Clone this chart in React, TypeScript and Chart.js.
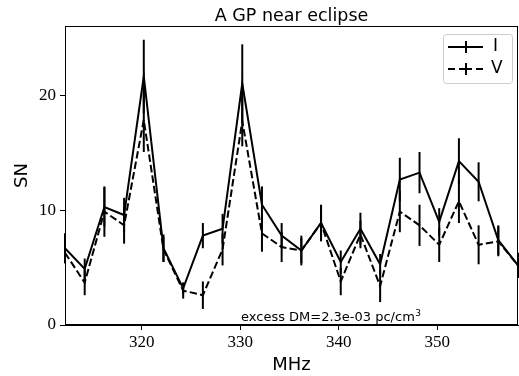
import React, { useEffect, useRef } from 'react';
import { Chart, registerables } from 'chart.js';

Chart.register(...registerables);

// Frequency channels (MHz)
const freqs = [
  312.2, 314.2, 316.2, 318.2, 320.2, 322.2, 324.2, 326.2, 328.2, 330.2, 332.2, 334.2,
  336.2, 338.2, 340.2, 342.2, 344.2, 346.2, 348.2, 350.2, 352.2, 354.2, 356.2, 358.2,
];
// Total intensity SN
const snI = [6.7, 4.9, 10.3, 9.6, 21.7, 6.7, 3.2, 7.8, 8.4, 21.1, 10.5, 7.8, 6.5, 8.9, 5.5, 8.4, 5.3, 12.7, 13.3, 9.0, 14.3, 12.5, 7.4, 5.2];
// Circular polarisation SN
const snV = [6.3, 3.7, 9.9, 8.7, 17.9, 6.6, 3.0, 2.6, 6.6, 17.8, 8.0, 6.8, 6.5, 8.9, 3.8, 7.9, 3.4, 9.9, 8.7, 7.0, 10.8, 7.0, 7.3, 5.2];
// Error bars
const errI = [1.3, 0.9, 1.7, 1.5, 3.2, 1.2, 0.5, 1.1, 1.3, 3.4, 1.6, 1.1, 1.1, 1.6, 1.0, 1.4, 0.9, 1.9, 1.8, 1.2, 2.0, 1.7, 1.3, 1.1];
const errV = [0.9, 1.1, 2.2, 1.6, 2.8, 1.1, 0.7, 1.2, 1.4, 2.2, 1.6, 1.3, 1.3, 1.5, 1.2, 1.2, 1.4, 1.8, 1.8, 1.5, 1.9, 1.7, 1.3, 1.0];

const xTicks = [320, 330, 340, 350];
const yTicks = [0, 10, 20];
const xMin = 312.2;
const xMax = 358.2;
const yMin = 0;
const yMax = 26.1;

const titleText = 'A GP near eclipse';
const xLabel = 'MHz';
const yLabel = 'SN';
const noteText = 'excess DM=2.3e-03 pc/cm';
const noteSup = '3';
const seriesLabels = ['I', 'V'];

const SANS = '"DejaVu Sans"';
const SERIF = '"Liberation Serif"';

const decor = {
  id: 'decor',
  afterDatasetsDraw(chart: any) {
    const { ctx, chartArea, scales } = chart;
    const xs = scales.x;
    const ys = scales.y;
    ctx.save();
    // error bars
    const errs = [errI, errV];
    const vals = [snI, snV];
    ctx.strokeStyle = '#000';
    ctx.lineWidth = 2;
    ctx.setLineDash([]);
    for (let d = 0; d < 2; d++) {
      for (let i = 0; i < freqs.length; i++) {
        const px = xs.getPixelForValue(freqs[i]);
        const y1 = ys.getPixelForValue(vals[d][i] + errs[d][i]);
        const y2 = ys.getPixelForValue(vals[d][i] - errs[d][i]);
        ctx.beginPath();
        ctx.moveTo(px, y1);
        ctx.lineTo(px, y2);
        ctx.stroke();
      }
    }
    // spines
    ctx.lineWidth = 1;
    ctx.strokeStyle = '#000';
    const l = Math.round(chartArea.left) + 0.5;
    const r = Math.round(chartArea.right) - 0.5;
    const t = Math.round(chartArea.top) + 0.5;
    const b = Math.round(chartArea.bottom) - 0.5;
    ctx.strokeRect(l, t, r - l, b - t);

    // note text
    ctx.fillStyle = '#000';
    ctx.font = `13px ${SANS}`;
    ctx.textAlign = 'left';
    ctx.textBaseline = 'alphabetic';
    const nx = 241;
    const ny = 321;
    ctx.fillText(noteText, nx, ny);
    const w = ctx.measureText(noteText).width;
    ctx.font = `9px ${SANS}`;
    ctx.fillText(noteSup, nx + w + 0.5, ny - 5);

    // legend
    const lx = 443, ly = 34, lw = 69, lh = 49;
    ctx.beginPath();
    ctx.roundRect(lx + 0.5, ly + 0.5, lw, lh, 3);
    ctx.fillStyle = 'rgba(255,255,255,0.8)';
    ctx.fill();
    ctx.strokeStyle = '#cccccc';
    ctx.lineWidth = 1;
    ctx.stroke();

    ctx.strokeStyle = '#000';
    ctx.lineWidth = 2;
    // entry I
    ctx.beginPath();
    ctx.moveTo(448, 47);
    ctx.lineTo(483, 47);
    ctx.moveTo(466, 41);
    ctx.lineTo(466, 53);
    ctx.stroke();
    // entry V
    ctx.beginPath();
    ctx.moveTo(448, 69);
    ctx.lineTo(455, 69);
    ctx.moveTo(459, 69);
    ctx.lineTo(472, 69);
    ctx.moveTo(476, 69);
    ctx.lineTo(483, 69);
    ctx.moveTo(466, 63);
    ctx.lineTo(466, 75);
    ctx.stroke();
    ctx.fillStyle = '#000';
    ctx.font = `17px ${SANS}`;
    ctx.textAlign = 'left';
    ctx.textBaseline = 'middle';
    ctx.fillText(seriesLabels[0], 493, 47);
    ctx.fillText(seriesLabels[1], 491, 69);

    // title
    ctx.font = `17.5px ${SANS}`;
    ctx.textAlign = 'center';
    ctx.textBaseline = 'alphabetic';
    ctx.fillText(titleText, (chartArea.left + chartArea.right) / 2, 20.5);

    // x label
    ctx.font = `18px ${SANS}`;
    ctx.fillText(xLabel, (chartArea.left + chartArea.right) / 2, 370);

    // y label
    ctx.save();
    ctx.translate(27, (chartArea.top + chartArea.bottom) / 2);
    ctx.rotate(-Math.PI / 2);
    ctx.textAlign = 'center';
    ctx.textBaseline = 'alphabetic';
    ctx.fillText(yLabel, 0, 0);
    ctx.restore();

    ctx.restore();
  },
};

export default function App() {
  const ref = useRef<HTMLCanvasElement>(null);
  useEffect(() => {
    const canvas = ref.current!;
    const chart = new Chart(canvas, {
      type: 'line',
      data: {
        datasets: [
          {
            label: seriesLabels[0],
            data: freqs.map((f, i) => ({ x: f, y: snI[i] })),
            borderColor: '#000',
            borderWidth: 2,
            pointRadius: 0,
            fill: false,
            tension: 0,
          },
          {
            label: seriesLabels[1],
            data: freqs.map((f, i) => ({ x: f, y: snV[i] })),
            borderColor: '#000',
            borderWidth: 2,
            borderDash: [7.4, 3.2],
            pointRadius: 0,
            fill: false,
            tension: 0,
          },
        ],
      },
      options: {
        responsive: false,
        animation: false,
        devicePixelRatio: 1,
        layout: { padding: { top: 26, right: 1, left: 0, bottom: 0 } },
        plugins: {
          legend: { display: false },
          title: { display: false },
          tooltip: { enabled: false },
        },
        scales: {
          x: {
            type: 'linear',
            min: xMin,
            max: xMax,
            afterFit: (s: any) => {
              s.height = 51;
            },
            afterBuildTicks: (s: any) => {
              s.ticks = xTicks.map((v) => ({ value: v }));
            },
            ticks: {
              font: { family: SERIF, size: 17 },
              color: '#000',
              padding: 2,
              maxRotation: 0,
              autoSkip: false,
              callback: (v: any) => String(v),
            },
            grid: { drawOnChartArea: false, drawTicks: true, tickLength: 5, color: '#000' },
            border: { display: true, color: '#000', width: 1 },
          },
          y: {
            type: 'linear',
            min: yMin,
            max: yMax,
            afterFit: (s: any) => {
              s.width = 65;
            },
            afterBuildTicks: (s: any) => {
              s.ticks = yTicks.map((v) => ({ value: v }));
            },
            ticks: {
              font: { family: SERIF, size: 17 },
              color: '#000',
              padding: 4,
              autoSkip: false,
              callback: (v: any) => String(v),
            },
            grid: { drawOnChartArea: false, drawTicks: true, tickLength: 5, color: '#000' },
            border: { display: true, color: '#000', width: 1 },
          },
        },
      },
      plugins: [decor],
    });
    return () => chart.destroy();
  }, []);
  return (
    <div style={{ position: 'fixed', left: 0, top: 0, width: 519, height: 376, background: '#fff' }}>
      <canvas ref={ref} width={519} height={376} style={{ width: 519, height: 376, display: 'block' }} />
    </div>
  );
}
